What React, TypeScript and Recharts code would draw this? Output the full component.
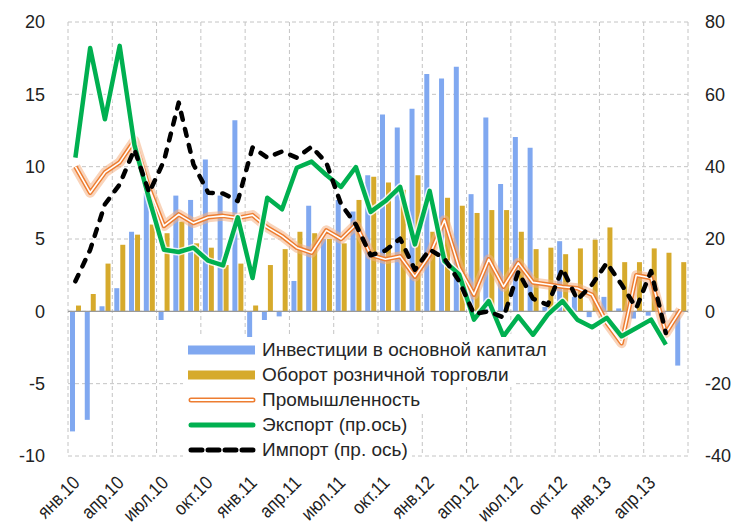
import React from "react";
import { ComposedChart, Bar, Line, XAxis, YAxis, CartesianGrid, ReferenceLine } from "recharts";

const FONT = "'Liberation Sans', Arial, sans-serif";

const months = [
  "янв.10", "фев.10", "мар.10", "апр.10", "май.10", "июн.10", "июл.10", "авг.10", "сен.10", "окт.10", "ноя.10", "дек.10",
  "янв.11", "фев.11", "мар.11", "апр.11", "май.11", "июн.11", "июл.11", "авг.11", "сен.11", "окт.11", "ноя.11", "дек.11",
  "янв.12", "фев.12", "мар.12", "апр.12", "май.12", "июн.12", "июл.12", "авг.12", "сен.12", "окт.12", "ноя.12", "дек.12",
  "янв.13", "фев.13", "мар.13", "апр.13", "май.13", "июн.13",
];

// left axis, %
const invest = [
  -8.3, -7.5, 0.35, 1.6, 5.5, 8.2, -0.6, 8.0, 7.7, 10.5, 8.0, 13.2,
  -1.85, -0.6, -0.35, 2.1, 7.3, 5.0, 7.7, 6.9, 9.4, 13.6, 12.7, 14.0,
  16.4, 16.1, 16.9, 8.1, 13.4, 8.8, 12.05, 11.3, 0.3, 4.85, 1.0, -0.4,
  1.0, 0.2, -0.5, -0.3, -0.2, -3.75,
];
const retail = [
  0.4, 1.2, 3.3, 4.6, 5.3, 6.0, 5.4, 6.2, 4.7, 4.4, 3.2, 3.3,
  0.4, 3.2, 4.3, 5.5, 5.4, 5.0, 4.7, 7.7, 9.3, 8.9, 8.4, 9.4,
  5.5, 7.85, 7.3, 6.8, 7.0, 7.0, 5.5, 4.3, 4.4, 3.95, 4.35, 4.95,
  5.8, 3.4, 3.4, 4.35, 4.05, 3.4,
];
const industry = [
  10.0, 8.2, 9.6, 10.3, 11.8, 8.5, 5.9, 6.7, 6.1, 6.5, 6.6, 6.45,
  6.65, 5.8, 5.2, 4.4, 4.05, 5.6, 5.0, 6.0, 3.9, 3.6, 3.8, 2.4,
  3.9, 6.3, 3.0, 1.15, 3.6, 1.7, 3.35, 2.0, 1.85, 1.7, 1.6, 1.15,
  -0.8, -2.2, 2.5, 2.3, -1.5, 0.1,
];
// right axis, %
const exports = [
  42.5, 72.8, 53.1, 73.4, 46, 31, 17, 16.4, 17.6, 14.0, 12.7, 26.0,
  9.2, 31.4, 28.2, 39.7, 41.4, 37.7, 34.4, 39.9, 27.5, 30.5, 34.4, 18.5,
  33.3, 13.9, 10.2, -2.3, 2.8, -6.9, -1.4, -6.5, -0.9, 2.8, -2.3, -4.4,
  -1.8, -6.9, -4.6, -2.3, -9.2, null,
];
const imports = [
  8.3, 17, 29.6, 35.1, 44.8, 32.8, 41.6, 57.7, 40.6, 32.8, 32.6, 30.5,
  45.3, 42.5, 44.2, 42.5, 45.5, 41.1, 29.6, 24.0, 15.5, 16.8, 20.1, 11.5,
  17.1, 14.6, 8.3, -0.7, 0, -1.7, 10.9, 3.5, 1.8, 11.8, 3.2, 7.4,
  13.4, 7.4, 0.9, 11.1, -6.0, null,
];

const leftTicks = [-10, -5, 0, 5, 10, 15, 20];
const rightTicks = [-40, -20, 0, 20, 40, 60, 80];

const data = months.map((m, i) => ({
  m,
  invest: invest[i],
  retail: retail[i],
  industry: industry[i],
  exp: exports[i],
  imp: imports[i],
}));

const BLUE = "#80a8f0";
const GOLD = "#d6aa2c";
const ORANGE = "#ed7d31";
const GREEN = "#00b050";

function XTick(props: any) {
  const { x, y, payload } = props;
  const tx = x + 5.5;
  const ty = y + 20;
  return (
    <text
      x={0}
      y={0}
      transform={`translate(${tx} ${ty}) rotate(-45) scale(0.88 1)`}
      textAnchor="end"
      fontSize={19}
      fill="#222"
      fontFamily={FONT}
    >
      {payload.value}
    </text>
  );
}

const legendRows = [
  { name: "Инвестиции в основной капитал", kind: "blue" },
  { name: "Оборот розничной торговли", kind: "gold" },
  { name: "Промышленность", kind: "orange" },
  { name: "Экспорт (пр.ось)", kind: "green" },
  { name: "Импорт (пр. ось)", kind: "black" },
];

function Swatch({ kind }: { kind: string }) {
  return (
    <svg width={68} height={14} style={{ display: "block" }}>
      {kind === "blue" && <rect x={0} y={2.5} width={67} height={9} fill={BLUE} />}
      {kind === "gold" && <rect x={0} y={2.5} width={67} height={9} fill={GOLD} />}
      {kind === "orange" && (
        <g>
          <line x1={3} y1={7} x2={65} y2={7} stroke={ORANGE} strokeWidth={5} strokeLinecap="round" />
          <line x1={3} y1={7} x2={65} y2={7} stroke="#fff" strokeWidth={1.8} strokeLinecap="round" />
        </g>
      )}
      {kind === "green" && <line x1={3} y1={7} x2={65} y2={7} stroke={GREEN} strokeWidth={5} strokeLinecap="round" />}
      {kind === "black" && (
        <line x1={3} y1={7} x2={65} y2={7} stroke="#000" strokeWidth={5} strokeLinecap="round" strokeDasharray="11 6" />
      )}
    </svg>
  );
}

export default function App() {
  return (
    <div style={{ position: "absolute", left: 0, top: 0, width: 740, height: 530, background: "#fff" }}>
      <ComposedChart width={740} height={530} data={data} margin={{ top: 22, right: 6, bottom: 14, left: 8 }} barGap={1} barSize={5}>
        <CartesianGrid
          yAxisId="l"
          stroke="#c4c4c4"
          strokeDasharray="4 3"
          verticalCoordinatesGenerator={({ offset }: any) =>
            Array.from({ length: 15 }, (_, k) => offset.left + (offset.width * k) / 14)
          }
        />
        <XAxis dataKey="m" interval={2} tickLine={false} axisLine={false} height={60} tick={<XTick />} />
        <YAxis
          yAxisId="l"
          domain={[-10, 20]}
          ticks={leftTicks}
          width={60}
          axisLine={false}
          tickLine={false}
          tickMargin={17}
          tick={{ fontSize: 18, fill: "#222", fontFamily: FONT }}
        />
        <YAxis
          yAxisId="r"
          orientation="right"
          domain={[-40, 80]}
          ticks={rightTicks}
          width={46}
          axisLine={false}
          tickLine={false}
          tickMargin={11}
          tick={{ fontSize: 18, fill: "#222", fontFamily: FONT }}
        />
        <ReferenceLine yAxisId="l" y={0} stroke="#9a9a9a" strokeWidth={1.2} />
        <Bar yAxisId="l" dataKey="invest" fill={BLUE} isAnimationActive={false} />
        <Bar yAxisId="l" dataKey="retail" fill={GOLD} isAnimationActive={false} />
        <Line yAxisId="l" dataKey="industry" stroke="#f4b183" strokeOpacity={0.55} strokeWidth={10} dot={false} activeDot={false} strokeLinejoin="round" isAnimationActive={false} />
        <Line yAxisId="l" dataKey="industry" stroke={ORANGE} strokeWidth={4.5} dot={false} activeDot={false} strokeLinejoin="round" isAnimationActive={false} />
        <Line yAxisId="l" dataKey="industry" stroke="#fff" strokeWidth={1.6} dot={false} activeDot={false} strokeLinejoin="round" isAnimationActive={false} />
        <Line yAxisId="r" dataKey="exp" stroke="#fff" strokeOpacity={0.8} strokeWidth={7.5} dot={false} activeDot={false} strokeLinejoin="round" isAnimationActive={false} />
        <Line yAxisId="r" dataKey="exp" stroke={GREEN} strokeWidth={4.5} dot={false} activeDot={false} strokeLinejoin="round" isAnimationActive={false} />
        <Line yAxisId="r" dataKey="imp" stroke="#000" strokeWidth={4.5} strokeDasharray="7 9.5" strokeLinecap="round" dot={false} activeDot={false} strokeLinejoin="round" isAnimationActive={false} />
      </ComposedChart>
      <div style={{ position: "absolute", left: 183, top: 337, fontFamily: FONT, fontSize: 19, color: "#262626" }}>
        {legendRows.map((r) => (
          <div key={r.name} style={{ display: "flex", alignItems: "center", height: 25, background: "#fff", width: "fit-content", paddingLeft: 5, paddingRight: 4 }}>
            <Swatch kind={r.kind} />
            <span style={{ marginLeft: 6, whiteSpace: "nowrap" }}>{r.name}</span>
          </div>
        ))}
      </div>
    </div>
  );
}
